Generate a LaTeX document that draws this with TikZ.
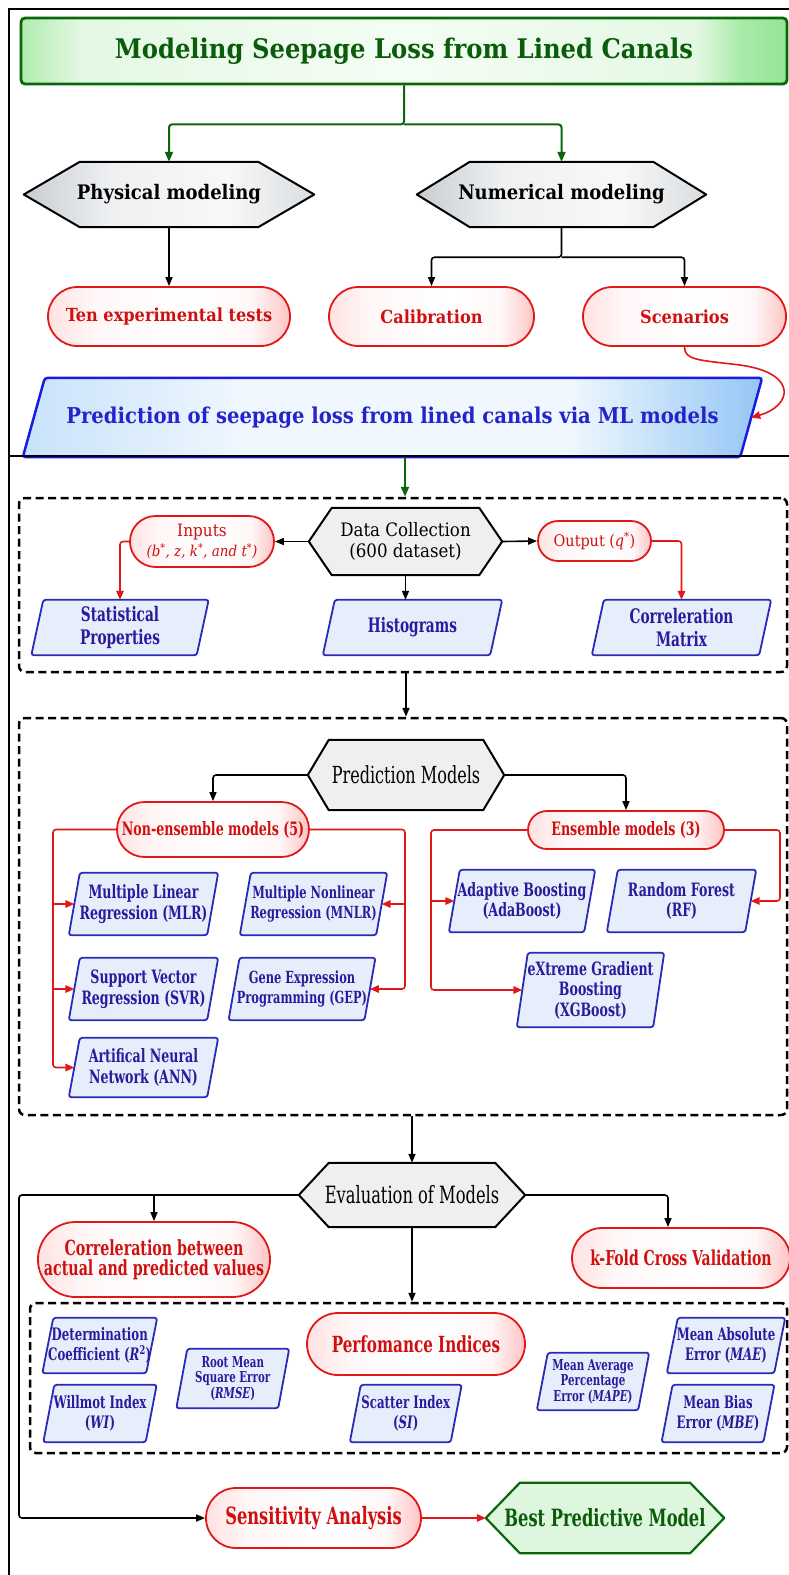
\documentclass[tikz,border=0pt]{standalone}
\usepackage{fontspec}
\setmainfont{DejaVuSerifCondensed}[Extension=.ttf,UprightFont=*,BoldFont=*-Bold,ItalicFont=*-Italic,BoldItalicFont=*-BoldItalic]
\newfontfamily\nf{DejaVuSerifCondensed}[Extension=.ttf,UprightFont=*,BoldFont=*-Bold,ItalicFont=*-Italic,BoldItalicFont=*-BoldItalic,FakeStretch=0.76]
\usetikzlibrary{shapes.misc,arrows.meta,calc,backgrounds}

\definecolor{dgreen}{HTML}{0B650B}
\definecolor{tgreen}{HTML}{0A5C0A}
\definecolor{tg1}{HTML}{B0ECB0}
\definecolor{tg2}{HTML}{E4F8E4}
\definecolor{tg3}{HTML}{F4FDF4}
\definecolor{tg4}{HTML}{A8EBA8}
\definecolor{tg5}{HTML}{96E696}
\definecolor{rred}{HTML}{E01818}
\definecolor{tred}{HTML}{D01010}
\definecolor{pr1}{HTML}{FFE2E2}
\definecolor{pr2}{HTML}{FFF7F7}
\definecolor{pr3}{HTML}{FFC4C4}
\definecolor{hg1}{HTML}{C9CDD2}
\definecolor{hg2}{HTML}{EEF0F2}
\definecolor{hg3}{HTML}{F7F8F9}
\definecolor{hg4}{HTML}{DADDE0}
\definecolor{hgray}{HTML}{EDEFF1}
\definecolor{mb1}{HTML}{C8E2FA}
\definecolor{mb2}{HTML}{F0F7FF}
\definecolor{mb3}{HTML}{94C6F4}
\definecolor{mblue}{HTML}{1A1AE6}
\definecolor{mtext}{HTML}{2424C8}
\definecolor{pblue}{HTML}{2A2AB8}
\definecolor{tblue}{HTML}{2A1A9C}
\definecolor{fblue}{HTML}{E6EEFC}
\definecolor{bestfill}{HTML}{DDF6DD}

\pgfdeclarehorizontalshading{titlesh}{100bp}{color(0bp)=(tg1); color(25bp)=(tg1); color(29bp)=(tg2); color(50bp)=(tg3); color(69bp)=(tg2); color(72bp)=(tg4); color(75bp)=(tg5); color(100bp)=(tg5)}
\pgfdeclarehorizontalshading{pillsh}{100bp}{color(0bp)=(pr1); color(25bp)=(pr1); color(35bp)=(pr2); color(55bp)=(white); color(67bp)=(pr2); color(75bp)=(pr3); color(100bp)=(pr3)}
\pgfdeclarehorizontalshading{hexsh}{100bp}{color(0bp)=(hg1); color(25bp)=(hg1); color(40bp)=(hg2); color(60bp)=(hg3); color(75bp)=(hg4); color(100bp)=(hg4)}
\pgfdeclarehorizontalshading{mainsh}{100bp}{color(0bp)=(mb1); color(25bp)=(mb1); color(40bp)=(mb2); color(62bp)=(mb2); color(75bp)=(mb3); color(100bp)=(mb3)}

\newcommand\fsz[2]{\fontsize{#1}{#2}\selectfont}
\newcommand\hexpath[2]{(#1.west) -- ($(#1.north west)+(#2,0)$) -- ($(#1.north east)+(-#2,0)$) -- (#1.east) -- ($(#1.south east)+(-#2,0)$) -- ($(#1.south west)+(#2,0)$) -- cycle}
\newcommand\parapath[2]{($(#1.south west)+(-#2/2,0)$) -- ($(#1.north west)+(#2/2,0)$) -- ($(#1.north east)+(#2/2,0)$) -- ($(#1.south east)+(-#2/2,0)$) -- cycle}

\tikzset{
  conn/.style={line width=1.6pt, draw=black, -{Triangle[length=9pt,width=7pt]}, rounded corners=3pt},
  rconn/.style={line width=1.6pt, draw=rred, -{Triangle[length=9pt,width=7.5pt]}, rounded corners=3pt},
  gconn/.style={line width=2pt, draw=dgreen, -{Triangle[length=10pt,width=8pt]}, rounded corners=3pt},
  titlebox/.style={rectangle, rounded corners=4pt, draw=dgreen, line width=2.8pt, shading=titlesh, text=tgreen, font=\fsz{27}{30}\bfseries, inner sep=0pt},
  pill/.style={rounded rectangle, draw=rred, line width=1.8pt, shading=pillsh, text=tred, font=\fsz{18}{21}\bfseries, align=center, inner sep=0pt},
  hexn/.style={rectangle, inner sep=0pt, align=center},
  para/.style={rectangle, inner sep=0pt, align=center, text=tblue, font=\nf\bfseries\fsz{18.4}{20.5}},
  mpara/.style={para, font=\nf\bfseries\fsz{16.7}{19.5}},
  dpara/.style={para, font=\nf\bfseries\fsz{17.2}{19.5}},
  spara/.style={para, font=\nf\bfseries\fsz{15}{15.5}},
  dashbox/.style={rectangle, draw, line width=2.5pt, dash pattern=on 8pt off 4.5pt, rounded corners=6pt, inner sep=0pt},
  hexshape/.style={draw=black, line width=2pt, line join=round},
  parashape/.style={draw=pblue, line width=1.8pt, fill=fblue, rounded corners=2.5pt},
}

\begin{document}
\begin{tikzpicture}[x=1pt,y=-1pt]
\useasboundingbox (0,0) rectangle (788,1575);

% frame and separator
\draw[line width=2.4pt] (9,1600) -- (9,9) -- (800,9);
\draw[line width=2.4pt] (9,456) -- (800,456);

% ---------- top part ----------
\node[titlebox, minimum width=766pt, minimum height=66pt] (title) at (404,51) {Modeling Seepage Loss from Lined Canals};
\node[hexn, minimum width=290pt, minimum height=65pt, font=\fsz{20}{24}\bfseries] (phys) at (169,194.5) {Physical modeling};
\node[hexn, minimum width=289pt, minimum height=65pt, font=\fsz{20}{24}\bfseries] (num) at (561.5,194.5) {Numerical modeling};
\node[pill, minimum width=242pt, minimum height=59pt] (ten) at (169,316.5) {Ten experimental tests};
\node[pill, minimum width=205pt, minimum height=59pt] (calib) at (431.5,316.5) {Calibration};
\node[pill, minimum width=203pt, minimum height=59pt] (scen) at (684.5,316.5) {Scenarios};
\node[hexn, minimum width=717pt, minimum height=79pt, text=mtext, font=\fsz{21.8}{24}\bfseries] (pred) at (392.5,417.5) {Prediction of seepage loss from lined canals via ML models};

% ---------- data collection ----------
\node[dashbox, minimum width=768pt, minimum height=174pt] (db1) at (403,585) {};
\node[hexn, minimum width=193pt, minimum height=67pt, font=\fsz{18.5}{20.5}] (data) at (405.5,541.5) {Data Collection\\(600 dataset)};
\node[pill, minimum width=144pt, minimum height=51pt, font=\fsz{17}{20}\mdseries] (inp) at (202,541.5) {Inputs\\{\fsz{15}{20}\itshape (b\textsuperscript{*}, z, k\textsuperscript{*}, and t\textsuperscript{*})}};
\node[pill, minimum width=113pt, minimum height=40pt, font=\fsz{16}{20}\mdseries] (outp) at (594.5,541) {Output (\textit{q}\textsuperscript{*})};
\node[para, font=\nf\bfseries\fsz{20}{23}, minimum width=165pt, minimum height=55pt] (stat) at (120,627.5) {Statistical\\Properties};
\node[para, font=\nf\bfseries\fsz{20}{23}, minimum width=167pt, minimum height=55pt] (hist) at (412.5,627.5) {Histograms};
\node[para, font=\nf\bfseries\fsz{20}{23}, minimum width=167pt, minimum height=55pt] (corrm) at (681.5,627.5) {Correleration\\Matrix};

% ---------- prediction models ----------
\node[dashbox, minimum width=768pt, minimum height=397pt] (db2) at (403,916.5) {};
\node[hexn, minimum width=196pt, minimum height=70pt, font=\nf\fsz{23.5}{26}] (pm) at (406,775) {Prediction Models};
\node[pill, minimum width=192pt, minimum height=55pt, font=\nf\bfseries\fsz{18.5}{20}] (nonens) at (213,829.5) {Non-ensemble models (5)};
\node[pill, minimum width=196pt, minimum height=38pt, font=\nf\bfseries\fsz{18.5}{20}] (ens) at (626,830) {Ensemble models (3)};
\node[para, minimum width=138pt, minimum height=62pt] (mlr) at (143.5,904) {Multiple Linear\\Regression (MLR)};
\node[mpara, minimum width=136pt, minimum height=62pt] (mnlr) at (313.5,904) {Multiple Nonlinear\\Regression (MNLR)};
\node[para, minimum width=138pt, minimum height=62pt] (svr) at (143.5,989) {Support Vector\\Regression (SVR)};
\node[mpara, minimum width=135.5pt, minimum height=62pt] (gep) at (302,989) {Gene Expression\\Programming (GEP)};
\node[para, minimum width=138pt, minimum height=59pt] (ann) at (143.5,1067.5) {Artifical Neural\\Network (ANN)};
\node[para, minimum width=135pt, minimum height=62pt] (ada) at (522,901) {Adaptive Boosting\\(AdaBoost)};
\node[para, minimum width=138pt, minimum height=62pt] (rf) at (681.5,901) {Random Forest\\(RF)};
\node[para, minimum width=136pt, minimum height=74pt] (xgb) at (590.5,990) {eXtreme Gradient\\Boosting\\(XGBoost)};

% ---------- evaluation ----------
\node[hexn, minimum width=226pt, minimum height=64pt, font=\nf\fsz{23.8}{26}] (eval) at (412,1195) {Evaluation of Models};
\node[pill, minimum width=230pt, minimum height=75pt, font=\nf\bfseries\fsz{20.8}{20.5}] (corr) at (154,1259.5) {Correleration between\\actual and predicted values};
\node[pill, minimum width=218pt, minimum height=60pt, font=\nf\bfseries\fsz{20.5}{22}] (kfold) at (681,1258) {k-Fold Cross Validation};
\node[dashbox, minimum width=757pt, minimum height=150pt] (db3) at (408.5,1378) {};
\node[pill, minimum width=218pt, minimum height=62pt, font=\nf\bfseries\fsz{22.2}{24}] (perf) at (416,1344) {Perfomance Indices};
\node[dpara, minimum width=103.5pt, minimum height=55pt] (det) at (99.75,1345.5) {Determination\\Coefficient (\textit{R}\textsuperscript{2})};
\node[dpara, minimum width=102pt, minimum height=57pt] (wi) at (100,1413.5) {Willmot Index\\(\textit{WI})};
\node[spara, minimum width=101.5pt, minimum height=59pt] (rmse) at (232.75,1378.5) {Root Mean\\Square Error\\(\textit{RMSE})};
\node[dpara, minimum width=100.5pt, minimum height=57pt] (si) at (405.75,1413.5) {Scatter Index\\(\textit{SI})};
\node[spara, minimum width=101pt, minimum height=57pt] (mape) at (593,1381.5) {Mean Average\\Percentage\\Error (\textit{MAPE})};
\node[dpara, minimum width=107pt, minimum height=55pt] (mae) at (726,1345.5) {Mean Absolute\\Error (\textit{MAE})};
\node[dpara, minimum width=101.5pt, minimum height=57pt] (mbe) at (718,1413.5) {Mean Bias\\Error (\textit{MBE})};
\node[pill, minimum width=215pt, minimum height=60pt, font=\nf\bfseries\fsz{23.8}{26}] (sens) at (313.5,1518) {Sensitivity Analysis};
\node[hexn, minimum width=238pt, minimum height=70pt, text=tgreen, font=\nf\bfseries\fsz{23.8}{26}] (best) at (605,1518) {Best Predictive Model};

% ---------- shapes behind the texts ----------
\begin{scope}[on background layer]
  \draw[hexshape, shading=hexsh] \hexpath{phys}{56};
  \draw[hexshape, shading=hexsh] \hexpath{num}{53};
  \draw[hexshape, fill=hgray] \hexpath{data}{23};
  \draw[hexshape, fill=hgray] \hexpath{pm}{21};
  \draw[hexshape, fill=hgray] \hexpath{eval}{30};
  \draw[draw=dgreen, line width=2.2pt, line join=round, fill=bestfill] \hexpath{best}{34};
  \draw[draw=mblue, line width=2.5pt, rounded corners=3pt, shading=mainsh] \parapath{pred}{22};
  \foreach \n in {stat,hist,corrm} {\draw[parashape] \parapath{\n}{12};}
  \foreach \n in {mlr,mnlr,svr,gep,ann,ada,rf,xgb} {\draw[parashape] \parapath{\n}{11};}
  \foreach \n in {det,wi,rmse,si,mape,mae,mbe} {\draw[parashape] \parapath{\n}{11};}
\end{scope}

% ---------- connectors ----------
\coordinate (gbr) at ($(title.south)+(0,39)$);
\draw[gconn] (title.south) -- (gbr) -| (phys.north);
\draw[gconn] (gbr) -| (num.north);
\draw[conn] (phys.south) -- (ten.north);
\coordinate (nbr) at ($(num.south)+(0,30)$);
\draw[conn] (num.south) -- (nbr) -| (calib.north);
\draw[conn] (nbr) -| (scen.north);
\draw[rconn] (scen.south) .. controls (684.5,360) and (698,360) .. (740,365) .. controls (798,374) and (792,406) .. (pred.east);

\coordinate (sepc) at (405,457);
\draw[gconn] (sepc) -- (db1.north -| sepc);
\draw[conn] (data.west) -- (inp.east);
\draw[conn] (data.east) -- (outp.west);
\draw[conn] (data.south) -- (data.south |- hist.north);
\draw[rconn] (inp.west) -| (stat.north);
\draw[rconn] (outp.east) -| (corrm.north);

\draw[conn] (db1.south -| pm.north) -- (db2.north -| pm.north);
\draw[conn] (pm.west) -| (nonens.north);
\draw[conn] (pm.east) -| (ens.north);
\coordinate (bl) at (53,829.5);
\draw[rconn] (nonens.west) -- (bl) |- (ann.west);
\draw[rconn] (bl |- mlr.west) -- (mlr.west);
\draw[rconn] (bl |- svr.west) -- (svr.west);
\coordinate (br) at (405,829.5);
\draw[rconn] (nonens.east) -- (br) |- (gep.east);
\draw[rconn] (br |- mnlr.east) -- (mnlr.east);
\coordinate (el) at (431,830);
\draw[rconn] (ens.west) -- (el) |- (xgb.west);
\draw[rconn] (el |- ada.west) -- (ada.west);
\coordinate (er) at (780,830);
\draw[rconn] (ens.east) -- (er) |- (rf.east);

\draw[conn] (db2.south -| eval.north) -- (eval.north);
\coordinate (lb) at (19,1195);
\draw[conn] (eval.west) -- (lb) |- (sens.west);
\draw[conn] (corr.north |- eval.west) -- (corr.north);
\draw[conn] (eval.east) -| ($(kfold.north)+(-13,0)$);
\draw[conn] (eval.south) -- (eval.south |- db3.north);
\draw[rconn] (sens.east) -- (best.west);
\end{tikzpicture}
\end{document}
